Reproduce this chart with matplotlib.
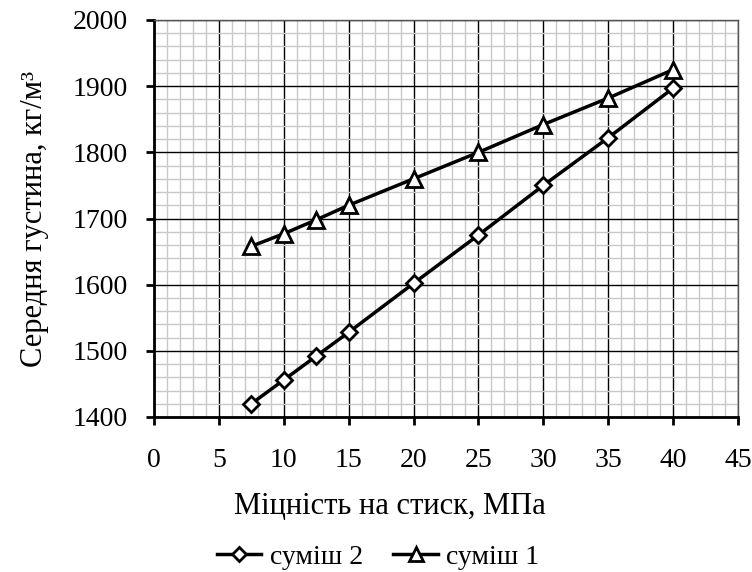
import matplotlib
matplotlib.use('Agg')
import matplotlib.pyplot as plt
from matplotlib.ticker import MultipleLocator

# Дані
mitsnist = [7.5, 10, 12.5, 15, 20, 25, 30, 35, 40]
gustyna_sumish2 = [1420, 1456, 1492, 1528, 1602, 1675, 1750, 1822, 1897]
gustyna_sumish1 = [1658, 1677, 1698, 1720, 1760, 1800, 1842, 1882, 1925]

plt.rcParams['font.family'] = ['Liberation Serif', 'DejaVu Serif']

fig = plt.figure(figsize=(7.52, 5.72), dpi=100)
ax = fig.add_axes([154 / 752, 1 - 417 / 572, 584 / 752, 397 / 572])

ax.plot(mitsnist, gustyna_sumish2, color='black', lw=2.5, marker='D', ms=8,
        mfc='white', mec='black', mew=2, label='суміш 2', zorder=5)
ax.plot(mitsnist, gustyna_sumish1, color='black', lw=2.5, marker='^', ms=11,
        mfc='white', mec='black', mew=2, label='суміш 1', zorder=5)

ax.set_xlim(0, 45)
ax.set_ylim(1400, 2000)
ax.xaxis.set_major_locator(MultipleLocator(5))
ax.xaxis.set_minor_locator(MultipleLocator(1))
ax.yaxis.set_major_locator(MultipleLocator(100))
ax.yaxis.set_minor_locator(MultipleLocator(20))

ax.grid(which='minor', color='#c8c8c8', lw=1)
ax.grid(which='major', color='black', lw=1)
ax.set_axisbelow(True)

ax.tick_params(which='major', direction='out', length=6, width=2, labelsize=20)
ax.tick_params(axis='x', pad=16)
ax.tick_params(axis='y', pad=13)
ax.tick_params(which='minor', length=0)

for s in ['left', 'bottom']:
    ax.spines[s].set_linewidth(2)
for s in ['top', 'right']:
    ax.spines[s].set_linewidth(1)
    ax.spines[s].set_color('#555555')

# підпис осі X зміщений ліворуч, як у діаграмі Excel
ax.set_xlabel('Міцність на стиск, МПа', fontsize=22, labelpad=14)
ax.xaxis.set_label_coords((390 - 154) / 584, -0.19)
ax.set_ylabel('Середня густина, кг/м³', fontsize=22, labelpad=17)

fig.legend(*ax.get_legend_handles_labels(), loc='center',
           bbox_to_anchor=(378 / 752, 1 - 557 / 572), ncol=2, frameon=False,
           fontsize=20, handlelength=1.6, columnspacing=1.1, handletextpad=0.3,
           borderpad=0, markerscale=0.9)

plt.savefig('out.png', dpi=100)
plt.close()
